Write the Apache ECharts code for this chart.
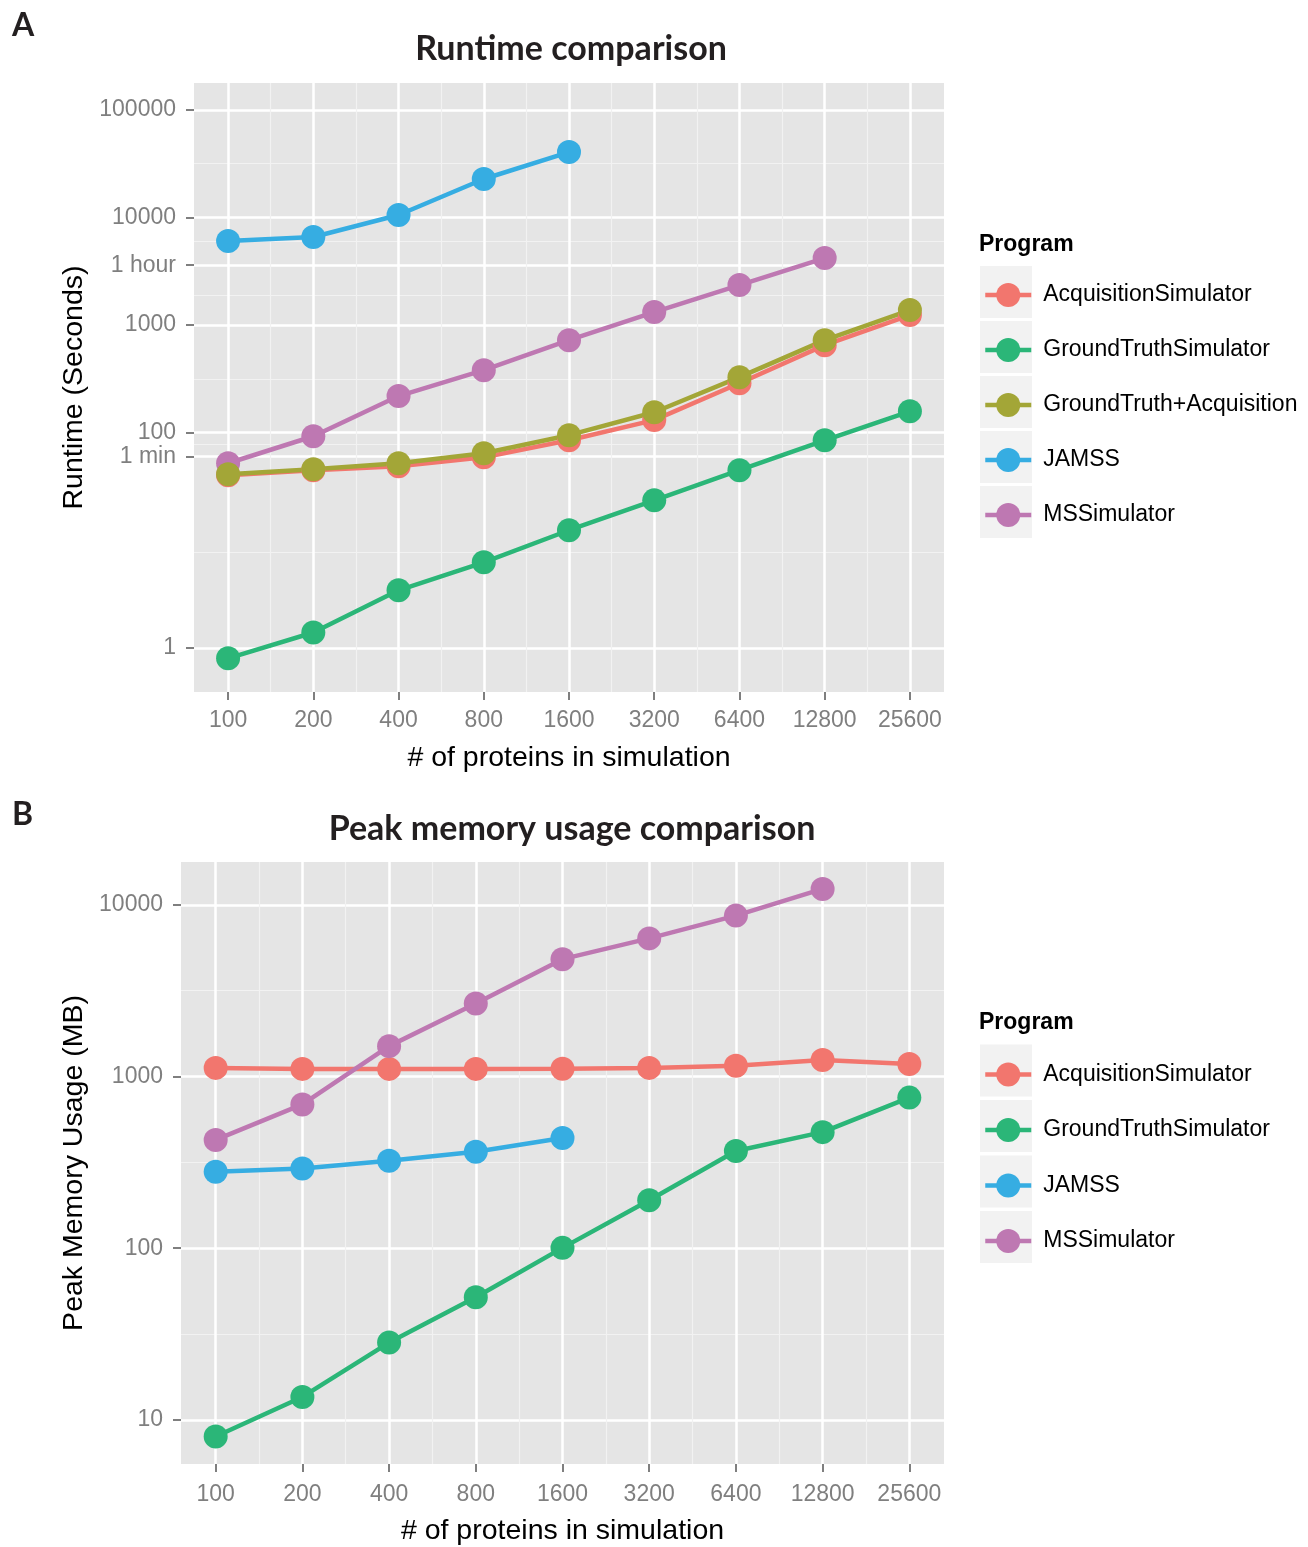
<!DOCTYPE html>
<html><head><meta charset="utf-8">
<script src="https://cdn.jsdelivr.net/npm/echarts@6/dist/echarts.min.js"></script>
<style>html,body{margin:0;padding:0;background:#fff}#c{width:1308px;height:1547px}</style>
</head><body><div id="c"></div>
<script>
// ---------- data ----------
const proteinCounts = [100, 200, 400, 800, 1600, 3200, 6400, 12800, 25600];

// Panel A: runtime in seconds
const runtimeAcquisition = [40.3, 44.8, 48.8, 59, 85, 131, 288, 651, 1239];
const runtimeGroundTruth = [0.80, 1.39, 3.43, 6.24, 12.4, 23.5, 44.8, 85, 158];
const runtimeGTplusAcq   = [41, 45.7, 52, 64.4, 94.8, 155, 328, 724, 1380];
const runtimeJAMSS       = [6040, 6590, 10550, 22800, 40600];
const runtimeMSSim       = [52, 92.7, 219, 381, 724, 1321, 2355, 4200];
const runtimeTickValues  = [1, 60, 100, 1000, 3600, 10000, 100000];
const runtimeTickLabels  = ['1', '1 min', '100', '1000', '1 hour', '10000', '100000'];

// Panel B: peak memory in MB
const memAcquisition = [1122, 1107, 1107, 1107, 1110, 1122, 1154, 1248, 1183];
const memGroundTruth = [8.0, 13.6, 28.2, 51.8, 100.4, 190, 368, 474, 753];
const memJAMSS       = [279, 291, 323, 364, 438];
const memMSSim       = [427, 687, 1502, 2657, 4821, 6370, 8645, 12360];
const memTickValues  = [10, 100, 1000, 10000];
const memTickLabels  = ['10', '100', '1000', '10000'];

// ---------- styling ----------
const colors = {
  'AcquisitionSimulator': '#F2766E',
  'GroundTruthSimulator': '#2BB678',
  'GroundTruth+Acquisition': '#A3A637',
  'JAMSS': '#36ADE2',
  'MSSimulator': '#BE78B2'
};
const FONT = '"Liberation Sans", Arial, Helvetica, sans-serif';
const TITLE_FONT = 'Lato, "Open Sans", sans-serif';
const GREY = '#7F7F7F';

const lg = v => Math.log10(v);
const xIdx = proteinCounts.map((_, i) => i);
const xMinor = proteinCounts.slice(1).map((_, i) => i + 0.5);
function minorsOf(vals) {
  const l = vals.map(lg), out = [];
  for (let i = 0; i < l.length - 1; i++) out.push((l[i] + l[i + 1]) / 2);
  return out;
}

function majorX(gi, gap, margin) {
  return {
    type: 'value', gridIndex: gi, min: -0.4, max: 8.4,
    axisLine: { show: false, onZero: false },
    axisTick: { show: true, length: 8, customValues: xIdx, lineStyle: { color: GREY, width: 2 } },
    axisLabel: { customValues: xIdx, formatter: v => String(proteinCounts[Math.round(v)]),
      color: GREY, fontSize: 23, fontFamily: FONT, margin },
    splitLine: { show: true, lineStyle: { color: '#FFFFFF', width: 2.5 } },
    name: '# of proteins in simulation', nameLocation: 'middle', nameGap: gap,
    nameTextStyle: { color: '#000', fontSize: 28.5, fontFamily: FONT }
  };
}
function minorX(gi) {
  return {
    type: 'value', gridIndex: gi, min: -0.4, max: 8.4,
    axisLine: { show: false, onZero: false },
    axisTick: { show: false, customValues: xMinor },
    axisLabel: { show: false, customValues: xMinor },
    splitLine: { show: true, lineStyle: { color: '#F2F2F2', width: 1.2 } }
  };
}
function majorY(gi, min, max, vals, labels, name, gap) {
  const lv = vals.map(lg);
  return {
    type: 'value', gridIndex: gi, min, max,
    axisLine: { show: false, onZero: false },
    axisTick: { show: true, length: 8, customValues: lv, lineStyle: { color: GREY, width: 2 } },
    axisLabel: { customValues: lv, color: GREY, fontSize: 23, fontFamily: FONT, margin: 18,
      formatter: v => { let best = 0; lv.forEach((x, i) => { if (Math.abs(x - v) < Math.abs(lv[best] - v)) best = i; }); return labels[best]; } },
    splitLine: { show: true, lineStyle: { color: '#FFFFFF', width: 2.5 } },
    name, nameLocation: 'middle', nameGap: gap,
    nameTextStyle: { color: '#000', fontSize: 28.5, fontFamily: FONT }
  };
}
function minorY(gi, min, max, vals) {
  const m = minorsOf(vals);
  return {
    type: 'value', gridIndex: gi, min, max,
    axisLine: { show: false, onZero: false },
    axisTick: { show: false, customValues: m },
    axisLabel: { show: false, customValues: m },
    splitLine: { show: true, lineStyle: { color: '#F2F2F2', width: 1.2 } }
  };
}
function mkSeries(name, arr, xi, yi) {
  return {
    name, type: 'line', xAxisIndex: xi, yAxisIndex: yi,
    data: arr.map((v, i) => [i, lg(v)]),
    symbol: 'circle', symbolSize: 24, showSymbol: true,
    lineStyle: { color: colors[name], width: 4.5 },
    itemStyle: { color: colors[name] },
    emphasis: { disabled: true }, animation: false
  };
}

const legendA = ['AcquisitionSimulator', 'GroundTruthSimulator', 'GroundTruth+Acquisition', 'JAMSS', 'MSSimulator'];
const legendB = ['AcquisitionSimulator', 'GroundTruthSimulator', 'JAMSS', 'MSSimulator'];
const keyCenterA = 292, keyCenterB = 1070.5;

function legendCfg(data, center, pitch) {
  return {
    data, orient: 'vertical', left: 983, top: center - 9, padding: 0,
    itemWidth: 46, itemHeight: 30, itemGap: pitch - 24, selectedMode: false,
    lineStyle: { width: 4.5 },
    textStyle: { color: '#000', fontSize: 23, fontFamily: FONT, padding: [0, 0, 0, 7] }
  };
}
function keyBoxes(n, center, pitch) {
  const out = [];
  for (let i = 0; i < n; i++) out.push({ type: 'rect', left: 980, top: center - 26 + i * pitch,
    shape: { width: 52, height: 52 }, style: { fill: '#F2F2F2' }, z: 0, silent: true });
  return out;
}

const yA = [-0.41, 5.25], yB = [0.743, 4.249];

const option = {
  backgroundColor: '#FFFFFF',
  animation: false,
  title: [
    { text: 'A', left: 12, top: 10, padding: 0, textStyle: { fontSize: 32, fontWeight: 'bold', fontFamily: TITLE_FONT, color: '#231F20' } },
    { text: 'Runtime comparison', left: 571, top: 32.5, textAlign: 'center', padding: 0, textStyle: { fontSize: 34, fontWeight: 'bold', fontFamily: TITLE_FONT, color: '#231F20' } },
    { text: 'Program', left: 979, top: 233, padding: 0, textStyle: { fontSize: 23, fontWeight: 'bold', fontFamily: FONT, color: '#000' } },
    { text: 'B', left: 12, top: 799, padding: 0, textStyle: { fontSize: 32, fontWeight: 'bold', fontFamily: TITLE_FONT, color: '#231F20' } },
    { text: 'Peak memory usage comparison', left: 572, top: 812.5, textAlign: 'center', padding: 0, textStyle: { fontSize: 34, fontWeight: 'bold', fontFamily: TITLE_FONT, color: '#231F20' } },
    { text: 'Program', left: 979, top: 1011, padding: 0, textStyle: { fontSize: 23, fontWeight: 'bold', fontFamily: FONT, color: '#000' } }
  ],
  grid: [
    { left: 194, top: 83, width: 750, height: 609, show: true, backgroundColor: '#E5E5E5', borderWidth: 0 },
    { left: 181, top: 862, width: 763, height: 608, show: true, backgroundColor: '#E5E5E5', borderWidth: 0 }
  ],
  xAxis: [majorX(0, 52, 17), minorX(0), majorX(1, 53, 19), minorX(1)],
  yAxis: [
    majorY(0, yA[0], yA[1], runtimeTickValues, runtimeTickLabels, 'Runtime (Seconds)', 98),
    minorY(0, yA[0], yA[1], runtimeTickValues),
    majorY(1, yB[0], yB[1], memTickValues, memTickLabels, 'Peak Memory Usage (MB)', 85),
    minorY(1, yB[0], yB[1], memTickValues)
  ],
  legend: [legendCfg(legendA, keyCenterA, 55), legendCfg(legendB, keyCenterB + 1, 55.5)],
  graphic: keyBoxes(5, keyCenterA, 55).concat(keyBoxes(4, keyCenterB, 55.5)),
  series: [
    mkSeries('MSSimulator', runtimeMSSim, 0, 0),
    mkSeries('JAMSS', runtimeJAMSS, 0, 0),
    mkSeries('GroundTruthSimulator', runtimeGroundTruth, 0, 0),
    mkSeries('AcquisitionSimulator', runtimeAcquisition, 0, 0),
    mkSeries('GroundTruth+Acquisition', runtimeGTplusAcq, 0, 0),
    mkSeries('AcquisitionSimulator', memAcquisition, 2, 2),
    mkSeries('GroundTruthSimulator', memGroundTruth, 2, 2),
    mkSeries('JAMSS', memJAMSS, 2, 2),
    mkSeries('MSSimulator', memMSSim, 2, 2)
  ]
};
const chart = echarts.init(document.getElementById('c'), null, { renderer: 'canvas' });
chart.setOption(option);
</script>
</body></html>
